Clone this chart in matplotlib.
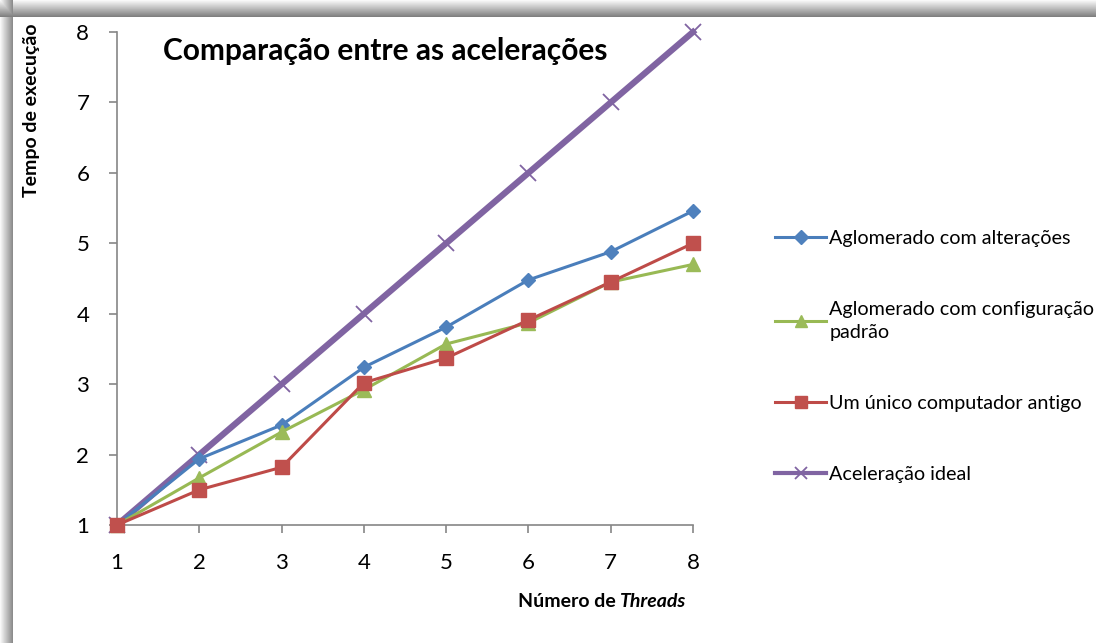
import matplotlib.pyplot as plt
import numpy as np
from matplotlib.lines import Line2D

threads = [1, 2, 3, 4, 5, 6, 7, 8]
com_alteracoes = [1.0, 1.94, 2.42, 3.24, 3.81, 4.48, 4.88, 5.46]
config_padrao = [1.0, 1.67, 2.32, 2.92, 3.57, 3.87, 4.45, 4.70]
computador_antigo = [1.0, 1.50, 1.82, 3.02, 3.37, 3.91, 4.45, 5.00]
ideal = [1, 2, 3, 4, 5, 6, 7, 8]

labels = [
    "Aglomerado com alterações",
    "Aglomerado com configuração\npadrão",
    "Um único computador antigo",
    "Aceleração ideal",
]

plt.rcParams["font.family"] = ["Lato", "DejaVu Sans"]

fig = plt.figure(figsize=(10.96, 6.43), dpi=100)

# shadow-like frame at top and left
bg = fig.add_axes([0, 0, 1, 1], zorder=-10)
W, H = 1096, 643
img = np.ones((H, W))
top = np.linspace(0.97, 0.5, 17)
left = np.linspace(0.97, 0.55, 13)
for i, v in enumerate(top):
    img[i, :] = np.minimum(img[i, :], v)
for j, v in enumerate(left):
    img[:, j] = np.minimum(img[:, j], v)
bg.imshow(img, cmap="gray", vmin=0, vmax=1, aspect="auto", interpolation="bilinear")
bg.axis("off")

ax = fig.add_axes([0.1068, 0.1835, 0.5255, 0.7667])
ax.patch.set_alpha(0)

ax.plot(threads, ideal, color="#8064A2", lw=4.5, marker="x", ms=12, mew=1.3,
        clip_on=False, zorder=3)
ax.plot(threads, com_alteracoes, color="#4A7EBB", lw=2.2, marker="D", ms=7,
        mfc="#4F81BD", mec="#4F81BD", clip_on=False, zorder=4)
ax.plot(threads, config_padrao, color="#98B954", lw=2.2, marker="^", ms=10,
        mfc="#9BBB59", mec="#9BBB59", clip_on=False, zorder=4)
ax.plot(threads, computador_antigo, color="#BE4B48", lw=2.2, marker="s", ms=10,
        mfc="#C0504D", mec="#C0504D", clip_on=False, zorder=5)

ax.set_xlim(1, 8)
ax.set_ylim(1, 8)
ax.set_xticks(threads)
ax.set_yticks(range(1, 9))
for s in ["top", "right"]:
    ax.spines[s].set_visible(False)
for s in ["left", "bottom"]:
    ax.spines[s].set_color("#868686")
    ax.spines[s].set_linewidth(1.2)
ax.tick_params(axis="both", colors="#868686", labelcolor="black", labelsize=16,
               length=6, width=1.2)
ax.tick_params(axis="x", pad=14)
ax.tick_params(axis="y", pad=14)

ax.text(0.08, 0.99, "Comparação entre as acelerações", transform=ax.transAxes,
        fontsize=21.5, fontweight="bold", va="top", ha="left")

fig.text(0.029, 0.829, "Tempo de execução", rotation=90, fontsize=14,
         fontweight="bold", ha="center", va="center")
t1 = fig.text(0.566, 0.065, "Número de ", fontsize=14, fontweight="bold",
              ha="right", va="center")
ax.annotate("Threads", xy=(1, 0), xycoords=t1, va="bottom", ha="left",
            fontsize=14, fontweight="bold", fontstyle="italic")

handles = [
    Line2D([], [], color="#4A7EBB", lw=2.2, marker="D", ms=7, mfc="#4F81BD", mec="#4F81BD"),
    Line2D([], [], color="#98B954", lw=2.2, marker="^", ms=9, mfc="#9BBB59", mec="#9BBB59"),
    Line2D([], [], color="#BE4B48", lw=2.2, marker="s", ms=9, mfc="#C0504D", mec="#C0504D"),
    Line2D([], [], color="#8064A2", lw=3, marker="x", ms=9, mew=1.3),
]
leg = fig.legend(handles, labels, loc="upper left", bbox_to_anchor=(0.700, 0.655),
                 frameon=False, fontsize=14.2, labelspacing=2.75, handlelength=2.6,
                 handletextpad=0.15, borderaxespad=0)
for t in leg.get_texts():
    t.set_linespacing(1.4)

fig.savefig("out.png", dpi=100)
